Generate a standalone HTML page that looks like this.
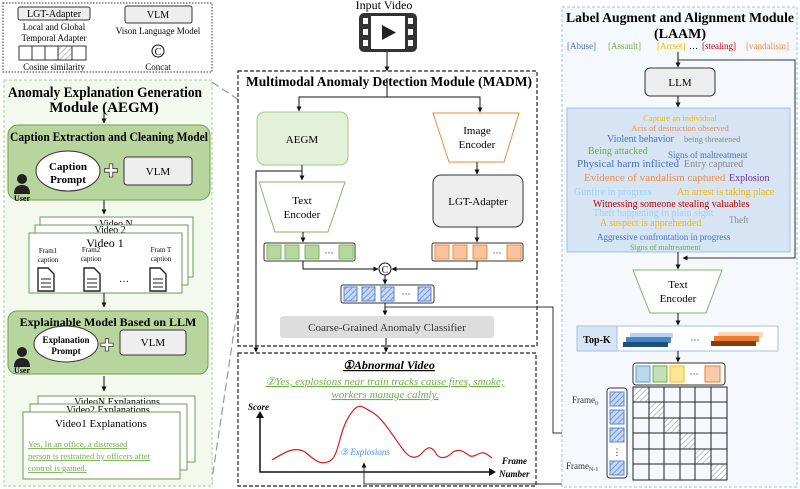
<!DOCTYPE html>
<html><head><meta charset="utf-8"><style>
html,body{margin:0;padding:0;background:#fff;}
svg{display:block;font-family:"Liberation Serif",serif;}
</style></head><body>
<svg width="800" height="489" viewBox="0 0 800 489" xmlns="http://www.w3.org/2000/svg">
<defs>
<marker id="a" viewBox="0 0 10 10" refX="9" refY="5" markerWidth="5" markerHeight="5" orient="auto"><path d="M0,0L10,5L0,10z" fill="#111"/></marker>
<pattern id="h" width="4" height="4" patternUnits="userSpaceOnUse" patternTransform="rotate(45)"><rect width="4" height="4" fill="#c7d8f2"/><line x1="0" y1="0" x2="0" y2="4" stroke="#5b86d6" stroke-width="1.6"/></pattern>
<pattern id="g" width="4" height="4" patternUnits="userSpaceOnUse" patternTransform="rotate(45)"><rect width="4" height="4" fill="#fff"/><line x1="0" y1="0" x2="0" y2="4" stroke="#aaa" stroke-width="1.5"/></pattern>
</defs>

<!-- Legend -->
<rect x="3" y="3" width="209" height="69" fill="#fff" stroke="#333" stroke-dasharray="1.5,1.5"/>
<rect x="18" y="7" width="72" height="13" rx="2" fill="#eee" stroke="#333"/>
<text x="54" y="17" font-size="10" text-anchor="middle">LGT-Adapter</text>
<text x="54" y="30" font-size="9" text-anchor="middle">Local and Global</text>
<text x="54" y="41" font-size="9" text-anchor="middle">Temporal Adapter</text>
<g stroke="#333" fill="#fff"><rect x="19" y="46" width="13" height="14"/><rect x="32" y="46" width="13" height="14"/><rect x="45" y="46" width="13" height="14"/><rect x="58" y="46" width="14" height="14" fill="url(#g)"/><rect x="72" y="46" width="14" height="14"/></g>
<text x="54" y="70" font-size="9" text-anchor="middle">Cosine similarity</text>
<rect x="125" y="6" width="67" height="17" rx="2" fill="#eee" stroke="#333"/>
<text x="158" y="18" font-size="10" text-anchor="middle">VLM</text>
<text x="158" y="34" font-size="9" text-anchor="middle">Vison Language Model</text>
<circle cx="158" cy="51" r="6" fill="#fff" stroke="#111"/><text x="158" y="55" font-size="10" text-anchor="middle">C</text>
<text x="158" y="70" font-size="9" text-anchor="middle">Concat</text>

<!-- gray dashed connectors -->
<line x1="212" y1="82" x2="258" y2="113" stroke="#999" stroke-width="1.2" stroke-dasharray="8,4"/>
<line x1="211" y1="486" x2="258" y2="170" stroke="#999" stroke-width="1.2" stroke-dasharray="8,4"/>

<!-- AEGM -->
<rect x="4" y="80" width="208" height="406" fill="#f4f9ee" stroke="#a8cf8e" stroke-dasharray="3,2"/>
<text x="8" y="97" font-size="15" font-weight="bold" textLength="194" lengthAdjust="spacingAndGlyphs">Anomaly Explanation Generation</text>
<text x="104" y="112" font-size="15" font-weight="bold" text-anchor="middle">Module (AEGM)</text>
<line x1="104" y1="112" x2="104" y2="123" stroke="#111" marker-end="url(#a)"/>
<rect x="8" y="125" width="202" height="75" rx="10" fill="#b8d59e" stroke="#6f9a55"/>
<text x="10" y="141" font-size="12.5" font-weight="bold" textLength="198" lengthAdjust="spacingAndGlyphs">Caption Extraction and Cleaning Model</text>
<ellipse cx="68" cy="171" rx="32" ry="20" fill="#fff" stroke="#333"/>
<text x="68" y="170" font-size="11" font-weight="bold" text-anchor="middle">Caption</text>
<text x="68" y="183" font-size="11" font-weight="bold" text-anchor="middle">Prompt</text>
<text x="111" y="177" font-size="18" text-anchor="middle" fill="#fff" stroke="#333" stroke-width="0.8">✚</text>
<rect x="124" y="157" width="68" height="28" rx="3" fill="#eee" stroke="#333"/>
<text x="158" y="175" font-size="11" text-anchor="middle">VLM</text>
<circle cx="22" cy="179" r="5" fill="#222"/><path d="M14,194 Q14,185 22,185 Q30,185 30,194 Z" fill="#222"/>
<text x="22" y="201" font-size="8" font-weight="bold" text-anchor="middle">User</text>
<line x1="104" y1="200" x2="104" y2="214" stroke="#111" marker-end="url(#a)"/>
<rect x="40" y="217" width="153" height="60" fill="#fff" stroke="#6f9a55"/>
<text x="116" y="227" font-size="10" text-anchor="middle">Video N</text>
<rect x="35" y="225" width="153" height="60" fill="#fff" stroke="#6f9a55"/>
<text x="110" y="233" font-size="10" text-anchor="middle">Video 2</text>
<rect x="29" y="233" width="153" height="60" fill="#fff" stroke="#6f9a55"/>
<text x="105" y="247" font-size="12" text-anchor="middle">Video  1</text>
<g font-size="7" text-anchor="middle"><text x="48" y="253">Fram1</text><text x="48" y="262">caption</text><text x="91" y="252">Fram2</text><text x="91" y="261">caption</text><text x="161" y="252">Fram T</text><text x="161" y="261">caption</text></g>
<g fill="#fff" stroke="#222" stroke-width="1.4">
<path d="M38,268 h10 l6,6 v17 h-16 z"/><path d="M84,268 h10 l6,6 v17 h-16 z"/><path d="M150,268 h10 l6,6 v17 h-16 z"/>
</g>
<g stroke="#222" stroke-width="1"><line x1="41" y1="279" x2="51" y2="279"/><line x1="41" y1="283" x2="51" y2="283"/><line x1="41" y1="287" x2="51" y2="287"/><line x1="87" y1="279" x2="97" y2="279"/><line x1="87" y1="283" x2="97" y2="283"/><line x1="87" y1="287" x2="97" y2="287"/><line x1="153" y1="279" x2="163" y2="279"/><line x1="153" y1="283" x2="163" y2="283"/><line x1="153" y1="287" x2="163" y2="287"/></g>
<text x="124" y="282" font-size="10" text-anchor="middle">…</text>
<line x1="104" y1="293" x2="104" y2="307" stroke="#111" marker-end="url(#a)"/>
<rect x="8" y="311" width="200" height="63" rx="9" fill="#b8d59e" stroke="#6f9a55"/>
<text x="108" y="326" font-size="12" font-weight="bold" text-anchor="middle">Explainable  Model Based on LLM</text>
<ellipse cx="66" cy="344" rx="32" ry="18" fill="#fff" stroke="#333"/>
<text x="66" y="343" font-size="9" font-weight="bold" text-anchor="middle">Explanation</text>
<text x="66" y="354" font-size="9" font-weight="bold" text-anchor="middle">Prompt</text>
<text x="107" y="351" font-size="17" text-anchor="middle" fill="#fff" stroke="#333" stroke-width="0.8">✚</text>
<rect x="120" y="330" width="66" height="25" rx="3" fill="#eee" stroke="#333"/>
<text x="153" y="346" font-size="11" text-anchor="middle">VLM</text>
<circle cx="22" cy="352" r="5" fill="#222"/><path d="M14,367 Q14,358 22,358 Q30,358 30,367 Z" fill="#222"/>
<text x="22" y="373" font-size="8" font-weight="bold" text-anchor="middle">User</text>
<line x1="104" y1="376" x2="104" y2="391" stroke="#111" marker-end="url(#a)"/>
<rect x="38" y="396" width="157" height="66" fill="#fff" stroke="#6f9a55"/>
<text x="117" y="405" font-size="10" text-anchor="middle">VideoN Explanations</text>
<rect x="30" y="404" width="157" height="66" fill="#fff" stroke="#6f9a55"/>
<text x="108" y="413" font-size="10" text-anchor="middle">Video2 Explanations</text>
<rect x="23" y="412" width="157" height="67" fill="#fff" stroke="#6f9a55"/>
<text x="101" y="427" font-size="11" text-anchor="middle">Video1 Explanations</text>
<g font-size="8.5" fill="#6fae47" text-decoration="underline"><text x="28" y="447">Yes, In an office, a distressed</text><text x="28" y="459">person is restrained by officers after</text><text x="28" y="471">control is gained.</text></g>

<!-- Input video -->
<text x="384" y="9" font-size="12" text-anchor="middle">Input Video</text>
<rect x="359" y="13" width="58" height="39" rx="5" fill="#333"/>
<rect x="371" y="16" width="34" height="33" fill="#fff"/>
<g fill="#fff"><rect x="363" y="18" width="5" height="6"/><rect x="363" y="29" width="5" height="6"/><rect x="363" y="40" width="5" height="6"/><rect x="408" y="18" width="5" height="6"/><rect x="408" y="29" width="5" height="6"/><rect x="408" y="40" width="5" height="6"/></g>
<path d="M382,25 L396,32.5 L382,40 Z" fill="#222"/>
<line x1="387" y1="52" x2="387" y2="71" stroke="#111" marker-end="url(#a)"/>

<!-- MADM -->
<rect x="238" y="71" width="299" height="275" fill="#fff" stroke="#222" stroke-dasharray="4,2" stroke-width="1.2"/>
<text x="246" y="86" font-size="13.5" font-weight="bold" textLength="286" lengthAdjust="spacingAndGlyphs">Multimodal Anomaly Detection Module (MADM)</text>
<line x1="387" y1="78" x2="387" y2="97" stroke="#111"/>
<polyline points="299,111 299,97 480,97 480,112" fill="none" stroke="#111"/>
<line x1="299" y1="97" x2="299" y2="111" stroke="#111" marker-end="url(#a)"/>
<line x1="480" y1="97" x2="480" y2="112" stroke="#111" marker-end="url(#a)"/>
<rect x="257" y="112" width="91" height="53" rx="8" fill="#e4f1da" stroke="#9ccb82"/>
<text x="302" y="143" font-size="11" text-anchor="middle">AEGM</text>
<path d="M433,113 L519,113 L504,162 L449,162 Z" fill="#fff" stroke="#f08a3e"/>
<text x="477" y="134" font-size="11" text-anchor="middle">Image</text>
<text x="477" y="148" font-size="11" text-anchor="middle">Encoder</text>
<line x1="477" y1="162" x2="477" y2="174" stroke="#111" marker-end="url(#a)"/>
<rect x="433" y="175" width="90" height="52" rx="8" fill="#eee" stroke="#333"/>
<text x="478" y="205" font-size="11" text-anchor="middle">LGT-Adapter</text>
<polyline points="256,350 256,171 302,171" fill="none" stroke="#111"/>
<line x1="302" y1="165" x2="302" y2="180" stroke="#111" marker-end="url(#a)"/>
<line x1="256" y1="340" x2="256" y2="352" stroke="#111" marker-end="url(#a)"/>
<path d="M259,182 L345,182 L328,232 L275,232 Z" fill="#fff" stroke="#7fba5f"/>
<text x="302" y="204" font-size="11" text-anchor="middle">Text</text>
<text x="302" y="218" font-size="11" text-anchor="middle">Encoder</text>
<line x1="303" y1="232" x2="303" y2="242" stroke="#111" marker-end="url(#a)"/>
<line x1="477" y1="227" x2="477" y2="242" stroke="#111" marker-end="url(#a)"/>
<rect x="264" y="243" width="91" height="18" rx="2" fill="#fff" stroke="#333"/>
<g fill="#b7d79f" stroke="#7fba5f"><rect x="267" y="245" width="14" height="14"/><rect x="285" y="245" width="14" height="14"/><rect x="305" y="245" width="14" height="14"/><rect x="339" y="245" width="14" height="14"/></g>
<text x="329" y="256" font-size="9" text-anchor="middle">···</text>
<rect x="432" y="243" width="91" height="18" rx="2" fill="#fff" stroke="#333"/>
<g fill="#f8c4a0" stroke="#f08a3e"><rect x="435" y="245" width="14" height="14"/><rect x="453" y="245" width="14" height="14"/><rect x="473" y="245" width="14" height="14"/><rect x="507" y="245" width="14" height="14"/></g>
<text x="497" y="256" font-size="9" text-anchor="middle">···</text>
<polyline points="303,261 303,269 378,269" fill="none" stroke="#111" marker-end="url(#a)"/>
<polyline points="477,261 477,269 392,269" fill="none" stroke="#111" marker-end="url(#a)"/>
<circle cx="385" cy="269" r="6" fill="#fff" stroke="#111"/><text x="385" y="273" font-size="10" text-anchor="middle">C</text>
<line x1="385" y1="275" x2="385" y2="284" stroke="#111" marker-end="url(#a)"/>
<rect x="341" y="285" width="93" height="18" rx="2" fill="#fff" stroke="#333"/>
<g stroke="#5b86d6" fill="url(#h)"><rect x="344" y="287" width="13" height="14"/><rect x="362" y="287" width="13" height="14"/><rect x="381" y="287" width="13" height="14"/><rect x="418" y="287" width="13" height="14"/></g>
<text x="406" y="297" font-size="9" text-anchor="middle">···</text>
<line x1="385" y1="303" x2="385" y2="315" stroke="#111" marker-end="url(#a)"/>
<polyline points="385,307 553,307 553,433 601,433" fill="none" stroke="#333" marker-end="url(#a)"/>
<rect x="280" y="316" width="214" height="22" rx="3" fill="#ddd"/>
<text x="387" y="331" font-size="11" text-anchor="middle" fill="#333">Coarse-Grained Anomaly Classifier</text>
<line x1="386" y1="338" x2="386" y2="352" stroke="#111" marker-end="url(#a)"/>

<!-- Abnormal video box -->
<rect x="238" y="353" width="298" height="133" fill="#fff" stroke="#222" stroke-dasharray="4,2" stroke-width="1.2"/>
<text x="389" y="369" font-size="12" font-weight="bold" font-style="italic" text-anchor="middle" text-decoration="underline">①Abnormal Video</text>
<g font-size="11" font-style="italic" fill="#6fae47" text-anchor="middle" text-decoration="underline"><text x="385" y="385">②Yes, explosions near train tracks cause fires, smoke;</text><text x="385" y="398">workers manage calmly.</text></g>
<text x="248" y="410" font-size="9" font-weight="bold" font-style="italic">Score</text>
<polyline points="260,413 260,472 494,472" fill="none" stroke="#111" stroke-width="1.5"/>
<path d="M256,418 L260,411 L264,418 Z" fill="#111"/><path d="M489,468 L496,472 L489,476 Z" fill="#111"/>
<text x="502" y="464" font-size="9" font-weight="bold" font-style="italic">Frame</text>
<text x="499" y="477" font-size="9" font-weight="bold" font-style="italic">Number</text>
<path d="M272,460 C285,452 295,446 305,452 C315,460 320,466 330,461 C340,455 338,430 352,412 C360,402 362,407 372,412 C385,420 395,440 405,452 C412,460 418,458 423,452 C428,446 432,446 437,455 C442,460 448,457 453,452 C460,448 464,452 470,456 C476,458 480,449 488,455 L492,458" fill="none" stroke="#d21f1f" stroke-width="1.2"/>
<text x="340" y="455" font-size="9" font-style="italic" fill="#4a90e2">③ Explosions</text>
<polyline points="728,433 770,433 770,484 364,484 364,463" fill="none" stroke="#333" marker-end="url(#a)"/>

<!-- LAAM -->
<rect x="562" y="7" width="235" height="480" fill="#f5f8fc" stroke="#9cc3e8" stroke-dasharray="3,2"/>
<text x="566" y="22" font-size="14" font-weight="bold" textLength="228" lengthAdjust="spacingAndGlyphs">Label Augment and Alignment Module</text>
<text x="680" y="38" font-size="14" font-weight="bold" text-anchor="middle">(LAAM)</text>
<g font-size="9"><text x="567" y="49" fill="#4472c4">[Abuse]</text><text x="608" y="49" fill="#70ad47">[Assault]</text><text x="657" y="49" fill="#f5b800">[Arrset]</text><text x="689" y="49">…</text><text x="702" y="49" fill="#c00000">[stealing]</text><text x="746" y="49" fill="#f08a4b">[vandalism]</text></g>
<polyline points="678,60 795,60 795,258 683,258" fill="none" stroke="#333" marker-end="url(#a)"/>
<line x1="678" y1="52" x2="678" y2="67" stroke="#111" marker-end="url(#a)"/>
<rect x="645" y="68" width="70" height="28" rx="5" fill="#eee" stroke="#333"/>
<text x="680" y="86" font-size="11" text-anchor="middle">LLM</text>
<line x1="678" y1="96" x2="678" y2="107" stroke="#111" marker-end="url(#a)"/>
<rect x="567" y="108" width="223" height="144" fill="#d6e4f3" stroke="#9cc3e8"/>
<g font-size="10">
<text x="680" y="121" text-anchor="middle" fill="#f5b800" font-size="8.5">Capture an individual</text>
<text x="680" y="131" text-anchor="middle" fill="#f08a4b" font-size="8.5">Acts of destruction observed</text>
<text x="607" y="142" fill="#4472c4">Violent behavior</text><text x="684" y="142" fill="#888" font-size="8.5">being threatened</text>
<text x="588" y="154" fill="#70ad47">Being attacked</text><text x="668" y="158" fill="#4472c4" font-size="9">Signs of maltreatment</text>
<text x="577" y="167" fill="#4472c4" font-size="11">Physical harm inflicted</text><text x="684" y="167" fill="#888">Entry captured</text>
<text x="584" y="181" fill="#f08a4b" font-size="11">Evidence of vandalism captured</text><text x="729" y="181" fill="#7030a0">Explosion</text>
<text x="574" y="195" fill="#9dd3f5">Gunfire in progress</text><text x="677" y="195" fill="#f5b800">An arrest is taking place</text>
<text x="593" y="207" fill="#c00000">Witnessing someone stealing valuables</text>
<text x="593" y="216" fill="#9dd3f5">Theft happening in plain sight</text>
<text x="600" y="226" fill="#f5b800">A suspect is apprehended</text><text x="729" y="223" fill="#888" font-size="9">Theft</text>
<text x="597" y="240" fill="#4472c4" font-size="9">Aggressive confrontation in progress</text>
<text x="630" y="250" fill="#70ad47" font-size="8">Signs of maltreatment</text>
</g>
<line x1="678" y1="252" x2="678" y2="269" stroke="#111" marker-end="url(#a)"/>
<path d="M633,270 L722,270 L706,313 L650,313 Z" fill="#fff" stroke="#7fba5f"/>
<text x="678" y="288" font-size="11" text-anchor="middle">Text</text>
<text x="678" y="302" font-size="11" text-anchor="middle">Encoder</text>
<line x1="678" y1="313" x2="678" y2="325" stroke="#111" marker-end="url(#a)"/>
<rect x="577" y="326" width="201" height="25" fill="#fff" stroke="#9cc3e8"/>
<rect x="577" y="326" width="40" height="25" fill="#d6e4f3" stroke="#9cc3e8"/>
<text x="597" y="343" font-size="10" font-weight="bold" text-anchor="middle">Top-K</text>
<rect x="630" y="333" width="43" height="5" fill="#b9d3ee"/><rect x="626" y="337" width="45" height="6" fill="#4a86c5"/><rect x="623" y="342" width="45" height="5" fill="#1f4e79"/>
<text x="695" y="343" font-size="9" text-anchor="middle">···</text>
<rect x="718" y="332" width="45" height="5" fill="#fbd5b5"/><rect x="714" y="336" width="45" height="6" fill="#ed7d31"/><rect x="711" y="341" width="45" height="5" fill="#843c0c"/>
<line x1="678" y1="351" x2="678" y2="362" stroke="#111" marker-end="url(#a)"/>
<rect x="633" y="363" width="92" height="22" rx="3" fill="#fff" stroke="#333"/>
<rect x="636" y="366" width="14" height="16" fill="#bdd7ee" stroke="#5b9bd5"/><rect x="653" y="366" width="14" height="16" fill="#c5e0b4" stroke="#70ad47"/><rect x="670" y="366" width="14" height="16" fill="#ffe699" stroke="#ffc000"/>
<text x="694" y="377" font-size="9" text-anchor="middle">···</text>
<rect x="705" y="366" width="15" height="16" fill="#f8cbad" stroke="#ed7d31"/>
<g fill="url(#g)"><rect x="633" y="387" width="16" height="15"/><rect x="649" y="402" width="15" height="16"/><rect x="664" y="418" width="16" height="15"/><rect x="680" y="433" width="15" height="16"/><rect x="695" y="449" width="16" height="15"/><rect x="711" y="464" width="16" height="16"/></g>
<g stroke="#222" fill="none"><rect x="633" y="387" width="94" height="93"/>
<line x1="649" y1="387" x2="649" y2="480"/><line x1="664" y1="387" x2="664" y2="480"/><line x1="680" y1="387" x2="680" y2="480"/><line x1="695" y1="387" x2="695" y2="480"/><line x1="711" y1="387" x2="711" y2="480"/>
<line x1="633" y1="402" x2="727" y2="402"/><line x1="633" y1="418" x2="727" y2="418"/><line x1="633" y1="433" x2="727" y2="433"/><line x1="633" y1="449" x2="727" y2="449"/><line x1="633" y1="464" x2="727" y2="464"/></g>
<rect x="607" y="388" width="20" height="90" rx="3" fill="#fff" stroke="#333"/>
<g stroke="#5b86d6" fill="url(#h)"><rect x="610" y="392" width="14" height="14"/><rect x="610" y="410" width="14" height="14"/><rect x="610" y="428" width="14" height="14"/><rect x="610" y="461" width="14" height="14"/></g>
<text x="617" y="455" font-size="9" text-anchor="middle">⋮</text>
<text x="572" y="403" font-size="9" fill="#333">Frame<tspan font-size="6" dy="2">0</tspan></text>
<text x="566" y="469" font-size="9" fill="#333">Frame<tspan font-size="6" dy="2">N-1</tspan></text>
</svg>
</body></html>
